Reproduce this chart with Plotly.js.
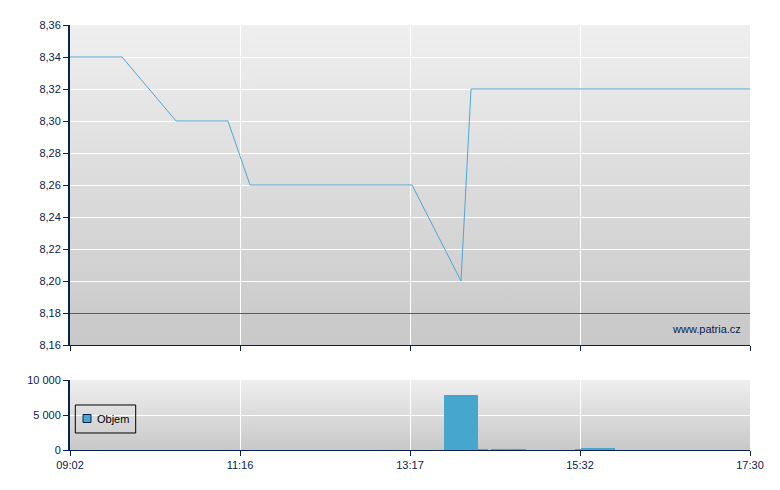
<!DOCTYPE html>
<html><head><meta charset="utf-8">
<script src="https://cdn.plot.ly/plotly-3.0.1.min.js"></script>
<style>html,body{margin:0;padding:0;background:#fff}#chart{width:780px;height:490px}</style>
</head><body><div id="chart"></div>
<script>
// x positions are in "tick interval" units of the session axis (09:02 .. 17:30)
const tickLabels = ['09:02','11:16','13:17','15:32','17:30'];
const tickPos = [0,1,2,3,4];
const priceX = [0, 0.306, 0.624, 0.929, 1.059, 2.012, 2.30, 2.359, 4];
const priceY = [8.34, 8.34, 8.30, 8.30, 8.26, 8.26, 8.20, 8.32, 8.32];
const refPrice = 8.18;
const volStart = [2.20, 2.40, 2.476, 2.971, 3.006];
const volEnd   = [2.40, 2.459, 2.682, 3.006, 3.206];
const volume   = [7900, 100, 150, 120, 300];
const seriesName = 'Objem';

const navy = '#0b2150';
const barColor = '#46a6cd';
const volX = volStart.map((s,i)=>(s+volEnd[i])/2);
const volW = volStart.map((s,i)=>volEnd[i]-s);

function grad(top,bottom){
  const svg = `<svg xmlns="http://www.w3.org/2000/svg" width="10" height="100" preserveAspectRatio="none"><defs><linearGradient id="g" x1="0" y1="0" x2="0" y2="1"><stop offset="0" stop-color="${top}"/><stop offset="1" stop-color="${bottom}"/></linearGradient></defs><rect width="10" height="100" fill="url(#g)"/></svg>`;
  return 'data:image/svg+xml;base64,' + btoa(svg);
}

const traces = [
  {x: priceX, y: priceY, type:'scatter', mode:'lines', line:{color:'#4fa7d3', width:1}, xaxis:'x', yaxis:'y', showlegend:false, hoverinfo:'skip'},
  {x: volX, y: volume, width: volW, type:'bar', name:seriesName, marker:{color:barColor, line:{width:0}}, xaxis:'x2', yaxis:'y2', showlegend:false}
];

const font = {family:'Liberation Sans, Arial, sans-serif', size:11, color:navy};
const layout = {
  width:780, height:490,
  margin:{l:70, r:30, t:25, b:40},
  paper_bgcolor:'#ffffff', plot_bgcolor:'rgba(0,0,0,0)',
  separators:', ',
  font: font,
  showlegend:false,
  bargap:0,
  xaxis:{domain:[0,1], range:[0,4], tickvals:tickPos, ticktext:tickLabels, showticklabels:false, ticks:'outside', ticklen:5, tickcolor:navy, showline:true, linecolor:navy, linewidth:1, showgrid:true, gridcolor:'#ffffff', gridwidth:1, zeroline:false, anchor:'y', fixedrange:true},
  yaxis:{domain:[105/425,1], range:[8.16,8.36], dtick:0.02, tick0:8.16, tickformat:'.2f', ticks:'outside', ticklen:5, tickcolor:navy, showline:true, linecolor:navy, linewidth:2, showgrid:true, gridcolor:'#ffffff', gridwidth:1, zeroline:false, anchor:'x', fixedrange:true},
  xaxis2:{domain:[0,1], range:[0,4], tickvals:tickPos, ticktext:tickLabels, ticks:'outside', ticklen:5, tickcolor:navy, showline:true, linecolor:navy, linewidth:1, showgrid:true, gridcolor:'#ffffff', gridwidth:1, zeroline:false, anchor:'y2', fixedrange:true},
  yaxis2:{domain:[0,70/425], range:[0,10000], tickvals:[0,5000,10000], tickformat:',d', ticks:'outside', ticklen:5, tickcolor:navy, showline:true, linecolor:navy, linewidth:2, showgrid:true, gridcolor:'#ffffff', gridwidth:1, zeroline:false, anchor:'x2', fixedrange:true},
  images:[
    {source:grad('#efefef','#c8c8c8'), xref:'x domain', yref:'y domain', x:0, y:1, sizex:1, sizey:1, sizing:'stretch', xanchor:'left', yanchor:'top', layer:'below'},
    {source:grad('#efefef','#c8c8c8'), xref:'x2 domain', yref:'y2 domain', x:0, y:1, sizex:1, sizey:1, sizing:'stretch', xanchor:'left', yanchor:'top', layer:'below'}
  ],
  shapes:[
    // reference price line (crisp 1px)
    {type:'rect', xref:'x domain', yref:'y', ysizemode:'pixel', yanchor:refPrice, x0:0, x1:1, y0:-1, y1:0, fillcolor:'#c43030', line:{width:0}},
    // legend box
    {type:'rect', xref:'x2 domain', yref:'y2 domain', x0:0.0078, x1:0.0966, y0:0.243, y1:0.643, fillcolor:'rgba(0,0,0,0)', line:{color:'#000000', width:1}},
    {type:'rect', xref:'x2 domain', yref:'y2 domain', x0:0.0191, x1:0.0309, y0:0.393, y1:0.507, fillcolor:barColor, line:{color:'#0b2150', width:1}}
  ],
  annotations:[
    {text:'www.patria.cz', xref:'x domain', yref:'y', x:0.99, y:8.17, xanchor:'right', yanchor:'middle', showarrow:false, font:{family:font.family, size:11, color:navy}},
    {text:seriesName, xref:'x2 domain', yref:'y2 domain', x:0.0368, y:0.443, xanchor:'left', yanchor:'middle', showarrow:false, font:{family:font.family, size:11, color:'#000000'}}
  ]
};
Plotly.newPlot('chart', traces, layout, {displayModeBar:false, staticPlot:true});
</script></body></html>
